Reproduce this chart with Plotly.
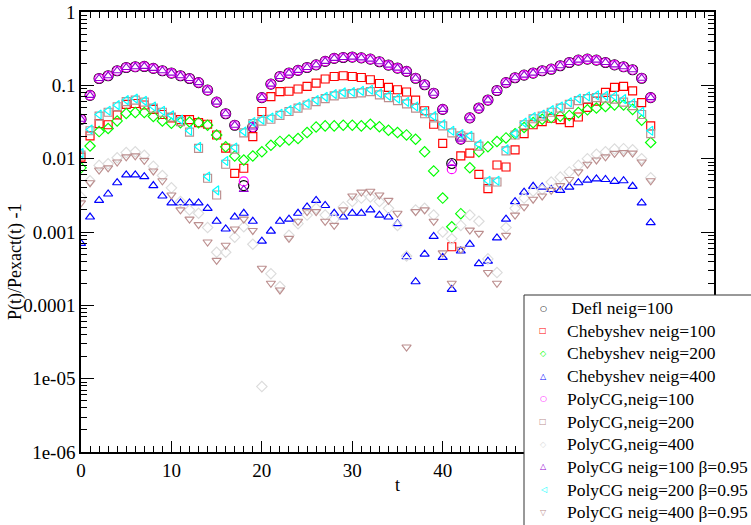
import plotly.graph_objects as go

t = list(range(64))

defl_100 = [0.0345, 0.073, 0.124, 0.135, 0.158, 0.175, 0.179, 0.181, 0.170, 0.158,
            0.147, 0.135, 0.124, 0.109, 0.086, 0.059, 0.041, 0.0286, 0.0043, 0.027,
            0.068, 0.104, 0.132, 0.147, 0.160, 0.175, 0.19, 0.212, 0.233, 0.24,
            0.243, 0.237, 0.228, 0.21, 0.189, 0.172, 0.155, 0.125, 0.102, 0.078,
            0.047, 0.0086, 0.0185, 0.036, 0.049, 0.063, 0.085, 0.109, 0.127, 0.138,
            0.147, 0.158, 0.166, 0.185, 0.205, 0.221, 0.228, 0.221, 0.205, 0.19,
            0.179, 0.163, 0.125, 0.068]

cheb_100 = [0.0105, 0.0205, 0.030, 0.029, 0.0395, 0.055, 0.0566, 0.054, 0.047, 0.040,
            0.036, 0.034, 0.034, 0.031, 0.0295, 0.021, 0.0139, 0.0063, 0.0074, 0.020,
            0.044, 0.070, 0.082, 0.083, 0.089, 0.097, 0.107, 0.122, 0.132, 0.135,
            0.132, 0.128, 0.119, 0.106, 0.094, 0.087, 0.081, 0.063, 0.045, 0.0295,
            0.0162, 0.00063, 0.0109, 0.0119, 0.0061, 0.0039, 0.0082, 0.0077, 0.0132, 0.022,
            0.029, 0.032, 0.0356, 0.034, 0.031, 0.037, 0.050, 0.061, 0.080, 0.094,
            0.097, 0.084, 0.058, 0.028]

cheb_200 = [0.0075, 0.0149, 0.0234, 0.0258, 0.0327, 0.0413, 0.0425, 0.0425, 0.0376, 0.0327,
            0.0305, 0.031, 0.0316, 0.031, 0.0286, 0.021, 0.0145, 0.0109, 0.0096, 0.0109,
            0.0124, 0.0152, 0.0172, 0.018, 0.0188, 0.0227, 0.0271, 0.028, 0.028, 0.0286,
            0.0286, 0.028, 0.0295, 0.0273, 0.0244, 0.0227, 0.0211, 0.0184, 0.0124, 0.0068,
            0.0029, 0.00118, 0.00178, 0.0075, 0.0124, 0.0145, 0.0171, 0.0192, 0.0219, 0.0266,
            0.031, 0.0345, 0.0363, 0.038, 0.0389, 0.0425, 0.0463, 0.049, 0.0515, 0.054,
            0.054, 0.047, 0.0335, 0.0166]

cheb_400 = [0.0007, 0.0016, 0.0027, 0.0033, 0.0047, 0.006, 0.006, 0.0057, 0.0043, 0.0031,
            0.0025, 0.0025, 0.0025, 0.0025, 0.0021, 0.0014, 0.0011, 0.0016, 0.0018, 0.0014,
            0.00075, 0.00103, 0.0014, 0.0015, 0.0018, 0.0022, 0.0027, 0.0023, 0.0018, 0.0016,
            0.0018, 0.0018, 0.0020, 0.0017, 0.0016, 0.0013, 0.00046, 0.00021, 0.0005, 0.00087,
            0.00045, 0.000165, 0.00055, 0.00068, 0.00037, 0.0004, 0.00083, 0.0015, 0.0026, 0.0035,
            0.0042, 0.0041, 0.0038, 0.0037, 0.0041, 0.0047, 0.0051, 0.0053, 0.0052, 0.0049,
            0.005, 0.0042, 0.0025, 0.00134]

polycg_100 = [0.0345, 0.073, 0.124, 0.135, 0.158, 0.175, 0.179, 0.181, 0.170, 0.158,
              0.147, 0.135, 0.124, 0.109, 0.086, 0.059, 0.041, 0.0286, 0.0049, 0.027,
              0.068, 0.104, 0.132, 0.147, 0.160, 0.175, 0.19, 0.212, 0.233, 0.24,
              0.243, 0.237, 0.228, 0.21, 0.189, 0.172, 0.155, 0.125, 0.102, 0.078,
              0.047, 0.0072, 0.0185, 0.036, 0.049, 0.063, 0.085, 0.109, 0.127, 0.138,
              0.147, 0.158, 0.166, 0.185, 0.205, 0.221, 0.228, 0.221, 0.205, 0.19,
              0.179, 0.163, 0.125, 0.068]

polycg_200 = [0.0112, 0.024, 0.038, 0.043, 0.051, 0.060, 0.063, 0.059, 0.049, 0.043,
              0.037, 0.032, 0.023, 0.0138, 0.0054, 0.0032, 0.0084, 0.0135, 0.0225, 0.030,
              0.0325, 0.0345, 0.039, 0.044, 0.049, 0.054, 0.060, 0.066, 0.072, 0.076,
              0.077, 0.079, 0.082, 0.074, 0.068, 0.062, 0.056, 0.049, 0.041, 0.036,
              0.028, 0.0225, 0.0205, 0.0195, 0.0148, 0.0048, 0.0048, 0.0128, 0.021, 0.029,
              0.035, 0.038, 0.043, 0.049, 0.055, 0.062, 0.066, 0.068, 0.067, 0.065,
              0.059, 0.053, 0.040, 0.022]

polycg_400 = [0.003, 0.005, 0.0081, 0.0085, 0.0103, 0.0121, 0.0124, 0.0111, 0.0079, 0.0059,
              0.004, 0.0026, 0.002, 0.0018, 0.00115, 0.00053, 0.00053, 0.00085, 0.00118, 0.00068,
              0.0000078, 0.00027, 0.00018, 0.0009, 0.0013, 0.0017, 0.0021, 0.0017, 0.0015, 0.0022,
              0.0026, 0.0029, 0.003, 0.0026, 0.0021, 0.00123, 0.00047, 0.002, 0.0021, 0.0017,
              0.001, 0.00081, 0.00123, 0.0017, 0.0014, 0.00043, 0.00028, 0.00115, 0.0021, 0.0029,
              0.0036, 0.0038, 0.0048, 0.0056, 0.0066, 0.0081, 0.01, 0.0115, 0.0124, 0.0135,
              0.0137, 0.0132, 0.01, 0.0055]

beta_100 = [0.0345, 0.073, 0.124, 0.135, 0.158, 0.175, 0.179, 0.181, 0.170, 0.158,
            0.147, 0.135, 0.124, 0.109, 0.086, 0.059, 0.041, 0.0286, 0.0038, 0.027,
            0.068, 0.104, 0.132, 0.147, 0.160, 0.175, 0.19, 0.212, 0.233, 0.24,
            0.243, 0.237, 0.228, 0.21, 0.189, 0.172, 0.155, 0.125, 0.102, 0.078,
            0.047, 0.0086, 0.0185, 0.036, 0.049, 0.063, 0.085, 0.109, 0.127, 0.138,
            0.147, 0.158, 0.166, 0.185, 0.205, 0.221, 0.228, 0.221, 0.205, 0.19,
            0.179, 0.163, 0.125, 0.068]

beta_200 = [0.0119, 0.025, 0.040, 0.045, 0.0537, 0.063, 0.066, 0.0615, 0.0515, 0.045,
            0.039, 0.034, 0.024, 0.0145, 0.0057, 0.0037, 0.0093, 0.0142, 0.0235, 0.0316,
            0.034, 0.0363, 0.041, 0.046, 0.051, 0.0566, 0.063, 0.0697, 0.076, 0.080,
            0.081, 0.084, 0.087, 0.078, 0.072, 0.066, 0.0595, 0.0515, 0.0435, 0.038,
            0.0295, 0.024, 0.0216, 0.0205, 0.0157, 0.005, 0.005, 0.0134, 0.022, 0.031,
            0.037, 0.040, 0.0458, 0.0515, 0.0585, 0.066, 0.0705, 0.073, 0.072, 0.071,
            0.065, 0.057, 0.0435, 0.024]

beta_400 = [0.0025, 0.0047, 0.0070, 0.0075, 0.009, 0.0106, 0.0109, 0.0095, 0.0068, 0.005,
            0.0032, 0.002, 0.0015, 0.00126, 0.00073, 0.00041, 0.00066, 0.0011, 0.0015, 0.00105,
            0.00032, 0.0002, 0.000162, 0.00082, 0.0014, 0.0019, 0.0019, 0.0014, 0.00123, 0.002,
            0.0031, 0.0035, 0.0036, 0.0032, 0.0027, 0.0018, 0.000027, 0.0019, 0.002, 0.0014,
            0.00052, 0.0002, 0.00058, 0.00106, 0.00096, 0.00028, 0.0002, 0.0009, 0.0017, 0.0022,
            0.0028, 0.0031, 0.0037, 0.0043, 0.0052, 0.0066, 0.0084, 0.0096, 0.0106, 0.0118,
            0.0121, 0.0119, 0.009, 0.005]

series_names = ["\u00a0Defl neig=100", "Chebyshev neig=100", "Chebyshev neig=200",
                "Chebyshev neig=400", "PolyCG,neig=100", "PolyCG,neig=200",
                "PolyCG,neig=400", "PolyCG neig=100 \u03b2=0.95",
                "PolyCG neig=200 \u03b2=0.95", "PolyCG neig=400 \u03b2=0.95"]
series_vals = [defl_100, cheb_100, cheb_200, cheb_400, polycg_100, polycg_200,
               polycg_400, beta_100, beta_200, beta_400]
colors = ["#000000", "#ff0000", "#00ff00", "#0000ff", "#ff00ff", "#bc8f8f",
          "#dcdcdc", "#9400d3", "#00ffff", "#bc8f8f"]
symbols = ["circle-open", "square-open", "diamond-open", "triangle-up-open",
           "circle-open", "square-open", "diamond-open", "triangle-up-open",
           "triangle-left-open", "triangle-down-open"]
legend_glyphs = ["\u25cb", "\u25a1", "\u25c7", "\u25b3", "\u25cb", "\u25a1",
                 "\u25c7", "\u25b3", "\u25c1", "\u25bd"]
sizes = [10, 8, 8, 8, 9, 8, 8, 8, 8, 8]

x_tickvals = [0, 10, 20, 30, 40, 50, 60, 70]
x_ticktext = ["0", "10", "20", "30", "40", "", "", ""]
y_tickvals = [1e-6, 1e-5, 1e-4, 1e-3, 1e-2, 1e-1, 1]
y_ticktext = ["1e-06", "1e-05", "0.0001", "0.001", "0.01", "0.1", "1"]
y_minor = [k * 10.0 ** e for e in range(-6, 0) for k in range(2, 10)]

W, H = 751, 525
ML, MR, MT, MB = 81, 37, 12, 73
PW, PH = W - ML - MR, H - MT - MB


def px(xp):
    return (xp - ML) / PW


def py(yp):
    return (H - MB - yp) / PH


fig = go.Figure()
for name, vals, c, s, sz in zip(series_names, series_vals, colors, symbols, sizes):
    fig.add_trace(go.Scatter(x=t, y=vals, mode="markers", name=name, showlegend=False,
                             marker=dict(symbol=s, size=sz, color=c,
                                         line=dict(color=c, width=1.15))))

serif = "Liberation Serif, Times New Roman, serif"
axis_common = dict(showline=True, linecolor="black", linewidth=1.5, mirror="ticks",
                   ticks="inside", tickcolor="black", tickwidth=1, showgrid=False,
                   zeroline=False, tickfont=dict(family=serif, size=19, color="black"))

shapes = [dict(type="rect", xref="paper", yref="paper", layer="above",
               x0=px(524), x1=px(760), y0=py(535), y1=py(295),
               fillcolor="white", line=dict(color="#333333", width=1))]
annotations = []
for i, (name, c, g) in enumerate(zip(series_names, colors, legend_glyphs)):
    yc = 308 + 22.7 * i
    annotations.append(dict(x=px(565), y=py(yc), xref="paper", yref="paper",
                            text=name, showarrow=False, xanchor="left", yanchor="middle",
                            font=dict(family=serif, size=17.5, color="black")))
    annotations.append(dict(x=px(543), y=py(yc), xref="paper", yref="paper",
                            text=g, showarrow=False, xanchor="center", yanchor="middle",
                            font=dict(family="DejaVu Sans", size=8, color=c)))
annotations.append(dict(x=px(15), y=py(262), xref="paper", yref="paper",
                        text="P(t)/Pexact(t) -1", showarrow=False, textangle=-90,
                        xanchor="center", yanchor="middle",
                        font=dict(family=serif, size=18, color="black")))
annotations.append(dict(x=px(397), y=py(485), xref="paper", yref="paper",
                        text="t", showarrow=False, xanchor="center", yanchor="middle",
                        font=dict(family=serif, size=18, color="black")))

fig.update_layout(
    width=W, height=H,
    margin=dict(l=ML, r=MR, t=MT, b=MB, autoexpand=False),
    paper_bgcolor="white", plot_bgcolor="white",
    font=dict(family=serif, size=18, color="black"),
    showlegend=False,
    xaxis=dict(range=[0, 70], tickvals=x_tickvals, ticktext=x_ticktext, ticklen=11,
               minor=dict(ticks="inside", ticklen=6, dtick=1, tickcolor="black", showgrid=False),
               **axis_common),
    yaxis=dict(type="log", range=[-6, 0], tickvals=y_tickvals, ticktext=y_ticktext, ticklen=13,
               minor=dict(ticks="inside", ticklen=6, tickvals=y_minor, tickcolor="black",
                          showgrid=False),
               **axis_common),
    shapes=shapes,
    annotations=annotations,
)

fig.write_html("out.html")
